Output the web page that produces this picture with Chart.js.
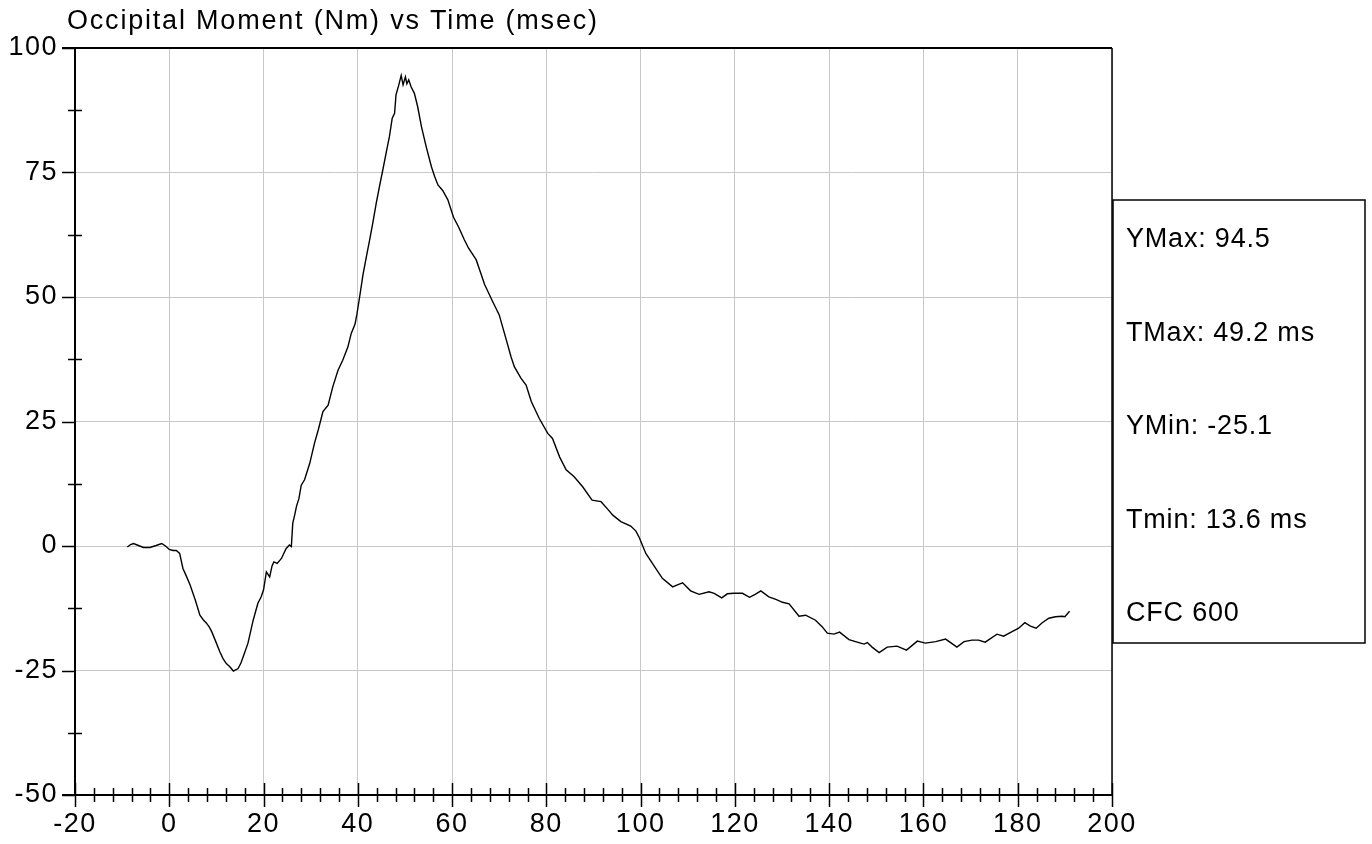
<!DOCTYPE html>
<html>
<head>
<meta charset="utf-8">
<title>Occipital Moment</title>
<script src="https://cdn.jsdelivr.net/npm/chart.js@4/dist/chart.umd.min.js"></script>
<style>
  html, body { margin: 0; padding: 0; background: #fff; }
  #wrap { width: 1372px; height: 844px; }
</style>
</head>
<body>
<div id="wrap"><canvas id="myChart"></canvas></div>
<script>
var chartTitle = 'Occipital Moment (Nm) vs Time (msec)';

// time (msec) and moment (Nm)
var times = [
  -8.9, -8.2, -7.6, -6.8, -5.5, -4.1, -2.8, -1.6, -0.8, 0.0,
  0.8, 1.5, 2.2, 2.9, 3.6, 4.4, 5.5, 6.5, 7.2, 7.9,
  8.5, 9.0, 10.0, 10.7, 11.4, 12.1, 12.8, 13.6, 14.6, 15.2,
  15.7, 16.7, 17.8, 18.8, 19.5, 20.0, 20.3, 20.6, 21.3, 21.8,
  22.2, 22.9, 23.8, 24.8, 25.5, 25.9, 26.2, 26.6, 27.0, 27.5,
  28.0, 28.7, 29.8, 30.8, 31.6, 32.6, 33.7, 34.7, 35.8, 36.8,
  37.9, 38.6, 39.4, 39.8, 40.4, 41.1, 41.9, 42.5, 43.2, 43.9,
  44.6, 45.3, 46.0, 46.7, 47.3, 47.8, 48.1, 48.7, 49.2, 49.6,
  50.1, 50.4, 50.8, 51.3, 52.0, 52.7, 53.5, 54.5, 55.6, 56.3,
  57.0, 58.0, 59.1, 60.3, 61.4, 62.6, 63.5, 65.1, 66.0, 66.9,
  67.9, 68.6, 70.0, 71.5, 72.5, 73.2, 74.6, 75.7, 76.8, 78.5,
  80.3, 81.3, 82.8, 84.2, 85.9, 87.7, 89.7, 91.6, 93.0, 94.1,
  95.8, 97.9, 99.0, 99.7, 101.1, 102.5, 104.6, 106.8, 107.8, 108.9,
  110.6, 112.4, 114.5, 115.6, 117.2, 118.4, 119.8, 121.6, 123.1, 124.3,
  125.5, 127.2, 128.7, 130.1, 131.5, 133.6, 135.0, 137.1, 138.5, 139.6,
  141.0, 142.2, 144.2, 146.3, 147.4, 148.1, 149.1, 150.6, 152.3, 154.4,
  156.4, 158.7, 160.4, 162.6, 164.7, 167.1, 168.6, 170.3, 171.7, 173.1,
  175.6, 177.0, 178.8, 180.2, 181.5, 182.7, 183.9, 185.2, 186.6, 188.0,
  189.4, 190.0, 191.0
];
var moments = [
  -0.2, 0.3, 0.5, 0.2, -0.3, -0.3, 0.1, 0.5, 0.0, -0.7,
  -0.9, -0.9, -1.5, -4.5, -6.0, -7.8, -10.8, -13.9, -14.8, -15.5,
  -16.3, -17.2, -19.5, -21.2, -22.6, -23.6, -24.2, -25.1, -24.6, -23.5,
  -22.2, -19.5, -14.9, -11.5, -10.2, -8.8, -7.0, -5.2, -6.2, -4.0,
  -3.2, -3.5, -2.5, -0.5, 0.2, -0.1, 4.6, 6.2, 8.0, 9.5,
  12.2, 13.3, 16.6, 20.6, 23.3, 27.0, 28.3, 32.0, 35.3, 37.3,
  40.0, 42.7, 44.5, 46.5, 50.1, 54.5, 58.5, 61.4, 65.0, 68.8,
  72.2, 75.5, 78.9, 82.2, 85.9, 86.9, 90.6, 92.6, 94.5, 92.6,
  94.2, 92.8, 93.6, 92.2, 90.9, 88.2, 84.2, 80.2, 76.2, 74.2,
  72.5, 71.4, 69.5, 66.0, 64.0, 61.5, 59.8, 57.5, 55.0, 52.5,
  50.5, 49.1, 46.4, 41.4, 38.0, 36.0, 33.7, 32.3, 29.0, 25.6,
  22.6, 21.6, 17.9, 15.3, 13.9, 11.9, 9.2, 8.9, 7.4, 6.2,
  4.9, 4.0, 3.0, 1.7, -1.5, -3.5, -6.5, -8.2, -7.8, -7.4,
  -9.0, -9.7, -9.2, -9.5, -10.4, -9.6, -9.5, -9.5, -10.3, -9.7,
  -9.0, -10.2, -10.7, -11.3, -11.6, -14.1, -13.9, -14.9, -16.2, -17.5,
  -17.7, -17.3, -18.8, -19.4, -19.7, -19.4, -20.3, -21.4, -20.3, -20.1,
  -20.9, -19.1, -19.5, -19.2, -18.7, -20.3, -19.2, -18.9, -18.9, -19.3,
  -17.7, -18.1, -17.2, -16.5, -15.4, -16.1, -16.5, -15.4, -14.5, -14.2,
  -14.1, -14.2, -13.1
];

var xMin = -20, xMax = 200, xStep = 20, xMinorStep = 4;
var yMin = -50, yMax = 100, yStep = 25, yMinorStep = 12.5;

var infoLines = ['YMax: 94.5', 'TMax: 49.2 ms', 'YMin: -25.1', 'Tmin: 13.6 ms', 'CFC 600'];

var fontFamily = "'Liberation Sans', Arial, sans-serif";

var points = times.map(function (t, i) {
  return { x: t, y: moments[i] };
});

// axes frame, crossing ticks, title and the info box
var framePlugin = {
  id: 'frame',
  beforeDraw: function (chart) {
    chart.ctx.letterSpacing = '1.5px';
  },
  afterDraw: function (chart) {
    var ctx = chart.ctx;
    var a = chart.chartArea;
    var xs = chart.scales.x;
    var ys = chart.scales.y;
    var v, p;

    ctx.save();
    ctx.strokeStyle = '#000';

    // ticks on x axis
    ctx.lineWidth = 1.5;
    ctx.beginPath();
    for (v = xMin; v <= xMax + 0.001; v += xMinorStep) {
      p = Math.round(xs.getPixelForValue(v)) + 0.5;
      var major = Math.abs(v % xStep) < 0.001;
      ctx.moveTo(p, a.bottom - (major ? 12 : 7));
      ctx.lineTo(p, a.bottom + (major ? 12 : 7));
    }
    // ticks on y axis
    for (v = yMin; v <= yMax + 0.001; v += yMinorStep) {
      p = Math.round(ys.getPixelForValue(v)) + 0.5;
      var majorY = Math.abs(v % yStep) < 0.001;
      ctx.moveTo(a.left - (majorY ? 13 : 7), p);
      ctx.lineTo(a.left + (majorY ? 0 : 7), p);
    }
    ctx.stroke();

    // frame lines
    ctx.lineWidth = 2;
    ctx.beginPath();
    ctx.moveTo(a.left - 13, a.top);
    ctx.lineTo(a.right, a.top);
    ctx.moveTo(a.left, a.top);
    ctx.lineTo(a.left, a.bottom);
    ctx.moveTo(a.left - 13, a.bottom);
    ctx.lineTo(a.right, a.bottom);
    ctx.stroke();
    ctx.lineWidth = 1.5;
    ctx.beginPath();
    ctx.moveTo(a.right, a.top);
    ctx.lineTo(a.right, a.bottom);
    ctx.stroke();

    // title
    ctx.fillStyle = '#000';
    ctx.font = '27px ' + fontFamily;
    ctx.letterSpacing = '1.8px';
    ctx.textAlign = 'left';
    ctx.textBaseline = 'middle';
    ctx.fillText(chartTitle, 67, 22);

    // info box
    ctx.lineWidth = 1.5;
    ctx.strokeRect(a.right + 1, 200, 252, 443);
    ctx.letterSpacing = '0.8px';
    ctx.font = '27px ' + fontFamily;
    infoLines.forEach(function (txt, i) {
      ctx.fillText(txt, a.right + 14, 240 + i * 93.5);
    });
    ctx.restore();
  }
};

var ctx = document.getElementById('myChart').getContext('2d');
var myChart = new Chart(ctx, {
  type: 'scatter',
  data: {
    datasets: [{
      label: 'Occipital Moment',
      data: points,
      showLine: true,
      borderColor: '#000',
      borderWidth: 1.4,
      pointRadius: 0,
      tension: 0,
      fill: false
    }]
  },
  options: {
    responsive: true,
    maintainAspectRatio: false,
    animation: false,
    layout: { padding: { top: 48, right: 260, left: 0, bottom: 0 } },
    plugins: {
      legend: { display: false },
      tooltip: { enabled: false },
      title: { display: false }
    },
    scales: {
      x: {
        type: 'linear',
        min: xMin,
        max: xMax,
        afterFit: function (s) { s.height = 49; },
        ticks: {
          stepSize: xStep,
          color: '#000',
          padding: 13,
          maxRotation: 0,
          font: { family: fontFamily, size: 27 }
        },
        grid: { color: '#c8c8c8', lineWidth: 1, drawTicks: false },
        border: { display: false }
      },
      y: {
        type: 'linear',
        min: yMin,
        max: yMax,
        afterFit: function (s) { s.width = 75; },
        ticks: {
          stepSize: yStep,
          color: '#000',
          padding: 17,
          font: { family: fontFamily, size: 27 }
        },
        grid: { color: '#c8c8c8', lineWidth: 1, drawTicks: false },
        border: { display: false }
      }
    }
  },
  plugins: [framePlugin]
});
</script>
</body>
</html>
